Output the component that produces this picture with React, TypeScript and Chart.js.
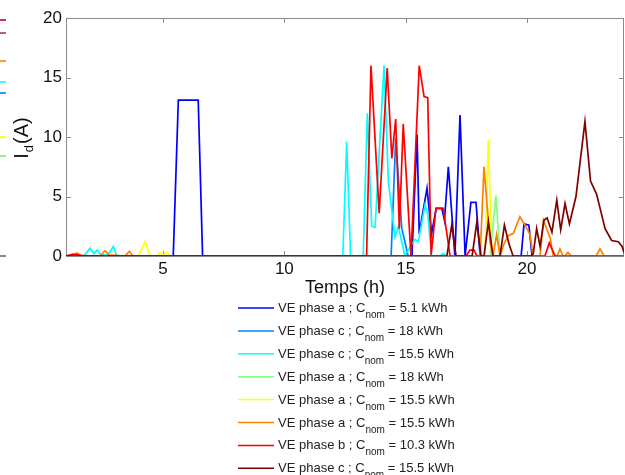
import React, { useEffect, useRef } from 'react';
import { Chart, registerables } from 'chart.js';
Chart.register(...registerables);

// ---- data (time in hours, current in A) ----
const phases = ['a', 'c', 'c', 'a', 'a', 'a', 'b', 'c'];
const capacities = ['5.1', '18', '15.5', '18', '15.5', '15.5', '10.3', '15.5'];
const colors = ['#0000ff', '#0080ff', '#00ffff', '#80ff80', '#ffff00', '#ff8000', '#ff0000', '#800000'];

const blueT = [1, 5.42, 5.63, 6.45, 6.63, 15.26, 15.47, 15.56, 15.88, 16.07, 16.26, 16.49, 16.60, 16.76, 17.03, 17.24, 17.45, 17.69, 17.90, 18.07, 19.76, 19.88, 20.08, 20.21, 24];
const blueV = [0, 0, 13.1, 13.1, 0, 0, 10.2, 1.9, 5.7, 1.9, 4.0, 4.0, 3.0, 7.5, 0, 11.85, 0, 4.5, 4.5, 0, 0, 2.7, 2.6, 0, 0];

const azureT = [1, 14.40, 14.59, 14.84, 14.97, 15.10, 24];
const azureV = [0, 0, 9.9, 2.3, 1.2, 0, 0];

const cyanT = [1, 1.74, 1.99, 2.15, 2.29, 2.44, 2.73, 2.95, 3.10, 12.41, 12.57, 12.73, 13.25, 13.42, 13.60, 13.74, 14.11, 14.29, 14.56, 14.70, 14.97, 15.25, 15.39, 15.52, 15.80, 15.91, 16.07, 16.42, 16.55, 16.68, 24];
const cyanV = [0, 0, 0.65, 0.2, 0.5, 0.1, 0.1, 0.8, 0, 0, 9.6, 0, 0, 12.0, 2.5, 2.4, 16.0, 6.2, 1.6, 2.5, 0, 1.0, 1.4, 1.2, 4.3, 3.5, 0, 0, 0.2, 0, 0];

const greenT = [1, 18.48, 18.72, 18.89, 24];
const greenV = [0, 0, 5.1, 0, 0];

const yellowT = [1, 3.98, 4.26, 4.46, 4.75, 4.87, 5.0, 5.16, 5.29, 18.27, 18.41, 18.55, 24];
const yellowV = [0, 0, 1.2, 0, 0, 0.3, 0.05, 0.3, 0, 0, 9.75, 0, 0];

const orangeT = [1, 1.25, 1.45, 1.66, 2.40, 2.61, 2.77, 3.43, 3.61, 3.76, 18.07, 18.23, 18.48, 18.60, 18.75, 18.89, 19.05, 19.23, 19.44, 19.71, 19.92, 20.13, 20.25, 20.54, 20.68, 20.96, 21.08, 21.24, 21.36, 21.49, 21.57, 21.69, 21.82, 22.85, 23.01, 23.18, 24];
const orangeV = [0, 0, 0.25, 0, 0, 0.45, 0.1, 0, 0.4, 0, 0, 7.5, 1.1, 0, 1.8, 0, 1.0, 1.7, 1.9, 3.3, 2.6, 1.8, 0, 0, 3.0, 1.5, 0, 0, 0.6, 0, 0, 0.3, 0, 0, 0.6, 0, 0];

const redT = [1, 1.3, 1.6, 1.9, 13.39, 13.57, 13.91, 14.24, 14.43, 14.59, 14.74, 14.90, 15.22, 15.56, 15.76, 15.91, 16.05, 16.25, 16.55, 16.83, 17.49, 17.65, 17.82, 17.94, 20.74, 20.92, 21.16, 24];
const redV = [0, 0.15, 0.05, 0, 0, 16.0, 3.6, 15.8, 8.2, 11.5, 2.3, 11.1, 0, 16.0, 13.4, 13.3, 0.1, 4.0, 4.0, 0, 0, 0.5, 0.5, 0, 0, 1.1, 0, 0];

const darkRedT = [1, 16.70, 16.90, 17.08, 17.74, 17.93, 18.11, 18.23, 18.41, 18.60, 18.89, 19.07, 19.26, 19.43, 20.17, 20.26, 20.40, 20.54, 20.70, 20.83, 21.03, 21.23, 21.39, 21.57, 21.75, 22.02, 22.39, 22.62, 22.87, 23.22, 23.49, 23.77, 23.92, 24];
const darkRedV = [0, 0, 2.6, 0, 0, 2.8, 0, 0, 2.9, 0, 0, 2.6, 1.0, 0, 0, 0.2, 2.3, 0.8, 3.0, 3.2, 2.0, 4.7, 2.2, 4.4, 2.7, 5.0, 11.3, 6.3, 5.2, 2.3, 1.3, 1.2, 0.8, 0.3];

const xTicks = [5, 10, 15, 20];
const yTicks = [0, 5, 10, 15, 20];

const seriesTimes = [blueT, azureT, cyanT, greenT, yellowT, orangeT, redT, darkRedT];
const seriesValues = [blueV, azureV, cyanV, greenV, yellowV, orangeV, redV, darkRedV];

const FONT = '"Liberation Sans", Arial, sans-serif';

const decor = {
  id: 'decor',
  beforeDraw(chart: any) {
    const ctx = chart.ctx;
    ctx.save();
    ctx.fillStyle = '#ffffff';
    ctx.fillRect(0, 0, chart.width, chart.height);
    ctx.restore();
  },
  beforeDatasetsDraw(chart: any) {
    const ctx = chart.ctx;
    const { left, right, top, bottom } = chart.chartArea;
    const xs = chart.scales.x;
    const ys = chart.scales.y;
    ctx.save();
    ctx.strokeStyle = '#8a8a8a';
    ctx.lineWidth = 1;
    ctx.strokeRect(left + 0.5, top + 0.5, right - left - 1, bottom - top);
    ctx.beginPath();
    const tl = 5;
    xTicks.forEach((v) => {
      const px = Math.round(xs.getPixelForValue(v)) + 0.5;
      ctx.moveTo(px, bottom);
      ctx.lineTo(px, bottom - tl);
      ctx.moveTo(px, top);
      ctx.lineTo(px, top + tl);
    });
    yTicks.forEach((v) => {
      const py = Math.round(ys.getPixelForValue(v)) + 0.5;
      ctx.moveTo(left, py);
      ctx.lineTo(left + tl, py);
      ctx.moveTo(right, py);
      ctx.lineTo(right - tl, py);
    });
    ctx.stroke();
    ctx.restore();
  },
  afterDraw(chart: any) {
    const ctx = chart.ctx;
    const { left, right, bottom } = chart.chartArea;
    ctx.save();
    ctx.fillStyle = '#111';
    // y title I_d(A)
    ctx.save();
    ctx.translate(28, 138);
    ctx.rotate(-Math.PI / 2);
    ctx.textBaseline = 'alphabetic';
    ctx.font = `20px ${FONT}`;
    const wI = ctx.measureText('I').width;
    const wA = ctx.measureText('(A)').width;
    ctx.font = `13px ${FONT}`;
    const wd = ctx.measureText('d').width;
    const total = wI + wd + wA + 2;
    let cx = -total / 2;
    ctx.font = `20px ${FONT}`;
    ctx.fillText('I', cx, 0);
    cx += wI + 1;
    ctx.font = `13px ${FONT}`;
    ctx.fillText('d', cx, 5);
    cx += wd + 1;
    ctx.font = `20px ${FONT}`;
    ctx.fillText('(A)', cx, 0);
    ctx.restore();

    // x title
    ctx.font = `18px ${FONT}`;
    ctx.textAlign = 'center';
    ctx.textBaseline = 'alphabetic';
    ctx.fillText('Temps (h)', (left + right) / 2, bottom + 37);

    // legend
    ctx.textAlign = 'left';
    const rowH = 22.9;
    const y0 = bottom + 52;
    for (let i = 0; i < colors.length; i++) {
      const y = y0 + i * rowH;
      ctx.strokeStyle = colors[i];
      ctx.lineWidth = 1.5;
      ctx.beginPath();
      ctx.moveTo(238, y);
      ctx.lineTo(274, y);
      ctx.stroke();
      let x = 278;
      ctx.fillStyle = '#222';
      ctx.font = `13px ${FONT}`;
      const p1 = `VE phase ${phases[i]} ; C`;
      ctx.fillText(p1, x, y + 4);
      x += ctx.measureText(p1).width;
      ctx.font = `10px ${FONT}`;
      ctx.fillText('nom', x, y + 10);
      x += ctx.measureText('nom').width;
      ctx.font = `13px ${FONT}`;
      ctx.fillText(` = ${capacities[i]} kWh`, x, y + 4);
    }

    // clipped fragments at the left edge of the picture
    const frag = [
      ['#d0306a', 20], ['#b06868', 33], ['#ff9933', 61], ['#33ffff', 82],
      ['#3399ff', 93], ['#ffff33', 137], ['#80ff80', 156], ['#8a8a8a', 256],
    ];
    frag.forEach(([c, y]: any) => {
      ctx.strokeStyle = c;
      ctx.lineWidth = 2;
      ctx.beginPath();
      ctx.moveTo(0, y);
      ctx.lineTo(6, y);
      ctx.stroke();
    });
    ctx.restore();
  },
};

export default function App() {
  const ref = useRef<HTMLCanvasElement>(null);
  useEffect(() => {
    const canvas = ref.current!;
    const datasets = seriesTimes.map((ts, i) => ({
      label: `VE phase ${phases[i]} ; Cnom = ${capacities[i]} kWh`,
      data: ts.map((t, j) => ({ x: t, y: seriesValues[i][j] })),
      borderColor: colors[i],
      backgroundColor: colors[i],
      borderWidth: 1.7,
      pointRadius: 0,
      fill: false,
      tension: 0,
      order: seriesTimes.length - i,
    }));
    const chart = new Chart(canvas, {
      type: 'line',
      data: { datasets },
      options: {
        animation: false,
        responsive: false,
        events: [],
        layout: { padding: { left: 0, top: 18, right: 1, bottom: 0 } },
        plugins: { legend: { display: false }, tooltip: { enabled: false } },
        scales: {
          x: {
            type: 'linear',
            min: 1,
            max: 24,
            afterBuildTicks: (s: any) => { s.ticks = xTicks.map((v) => ({ value: v })); },
            afterFit: (s: any) => { s.height = 219; },
            grid: { display: false, drawTicks: false },
            border: { display: false },
            ticks: { font: { family: FONT, size: 17 }, color: '#111', padding: 3, maxRotation: 0, autoSkip: false },
          },
          y: {
            type: 'linear',
            min: 0,
            max: 20,
            afterBuildTicks: (s: any) => { s.ticks = yTicks.map((v) => ({ value: v })); },
            afterFit: (s: any) => { s.width = 66; },
            grid: { display: false, drawTicks: false },
            border: { display: false },
            ticks: { font: { family: FONT, size: 17 }, color: '#111', padding: 4 },
          },
        },
      },
      plugins: [decor],
    } as any);
    return () => chart.destroy();
  }, []);
  return (
    <div style={{ position: 'fixed', left: 0, top: 0, width: 625, height: 475, background: '#fff' }}>
      <canvas ref={ref} width={625} height={475} style={{ display: 'block' }} />
    </div>
  );
}
